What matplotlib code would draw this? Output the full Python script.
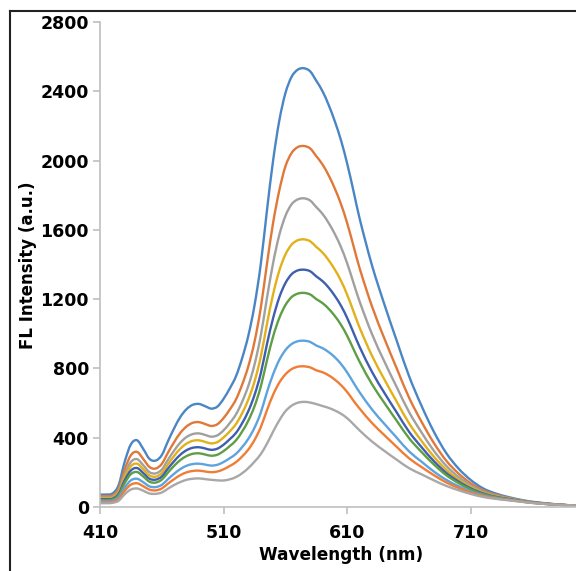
import matplotlib
matplotlib.use("Agg")
import matplotlib.pyplot as plt
from matplotlib.lines import Line2D
from matplotlib.path import Path
from matplotlib.patches import PathPatch

wavelength = [410, 415, 420, 425, 430, 435, 440, 445, 450, 455, 460, 465, 470, 475,
              480, 485, 490, 495, 500, 505, 510, 515, 520, 525, 530, 535, 540, 545,
              550, 555, 560, 565, 570, 575, 580, 585, 590, 595, 600, 605, 610, 615,
              620, 630, 640, 650, 660, 670, 680, 690, 700, 710, 720, 730, 740, 750,
              760, 780, 795]

s1 = [72, 72, 78, 125, 262, 362, 385, 335, 278, 268, 300, 380, 455, 520,
      565, 590, 595, 582, 568, 580, 625, 685, 755, 860, 990, 1165, 1400, 1710,
      2000, 2230, 2390, 2484, 2525, 2533, 2515, 2460, 2400, 2320, 2225, 2115, 1980, 1825,
      1665, 1395, 1170, 960, 755, 585, 435, 312, 222, 155, 107, 78, 58, 42,
      30, 15, 8]
s2 = [62, 62, 67, 105, 217, 299, 318, 277, 231, 222, 249, 314, 375, 428,
      465, 486, 490, 479, 468, 478, 514, 563, 621, 707, 813, 955, 1148, 1402,
      1640, 1827, 1967, 2044, 2078, 2084, 2070, 2025, 1977, 1914, 1837, 1747, 1637, 1508,
      1378, 1158, 973, 800, 631, 493, 370, 268, 193, 136, 96, 71, 54, 39,
      28, 14, 8]
s3 = [55, 55, 59, 92, 189, 260, 276, 241, 201, 194, 216, 273, 326, 372,
      404, 421, 425, 416, 406, 414, 443, 485, 535, 608, 700, 823, 988, 1205,
      1408, 1570, 1681, 1748, 1776, 1782, 1769, 1731, 1692, 1639, 1575, 1499, 1405, 1295,
      1186, 998, 840, 692, 548, 431, 325, 238, 173, 124, 88, 66, 51, 38,
      27, 14, 8]
s4 = [50, 50, 54, 84, 172, 236, 250, 218, 182, 175, 196, 247, 295, 337,
      366, 382, 385, 376, 367, 375, 402, 437, 479, 542, 621, 725, 866, 1055,
      1228, 1364, 1458, 1515, 1540, 1545, 1534, 1501, 1469, 1424, 1370, 1305, 1224, 1130,
      1035, 873, 737, 608, 483, 382, 291, 215, 158, 114, 82, 62, 48, 36,
      26, 14, 8]
s5 = [45, 45, 48, 75, 154, 211, 225, 196, 163, 158, 176, 222, 265, 302,
      328, 342, 345, 338, 330, 337, 360, 392, 428, 484, 554, 647, 770, 939,
      1090, 1210, 1293, 1344, 1366, 1370, 1361, 1331, 1304, 1266, 1218, 1161, 1090, 1007,
      924, 780, 659, 546, 434, 346, 265, 197, 147, 107, 78, 59, 47, 35,
      26, 14, 8]
s6 = [40, 40, 43, 67, 138, 190, 202, 176, 146, 141, 158, 199, 238, 271,
      294, 307, 310, 303, 296, 302, 323, 352, 385, 436, 499, 582, 694, 845,
      984, 1091, 1166, 1212, 1232, 1236, 1227, 1200, 1177, 1144, 1102, 1051, 987, 912,
      838, 709, 601, 498, 397, 318, 246, 184, 138, 101, 74, 57, 45, 34,
      25, 13, 8]
s7 = [34, 34, 36, 56, 112, 154, 163, 143, 119, 115, 128, 161, 192, 219,
      238, 248, 250, 245, 239, 244, 260, 282, 307, 346, 394, 458, 544, 662,
      766, 849, 906, 941, 957, 960, 953, 932, 917, 894, 864, 825, 776, 718,
      662, 563, 480, 400, 321, 262, 205, 157, 120, 90, 67, 53, 43, 33,
      24, 13, 8]
s8 = [28, 28, 30, 46, 94, 129, 137, 120, 100, 96, 107, 135, 161, 184,
      200, 208, 210, 205, 201, 205, 218, 237, 259, 292, 332, 387, 460, 558,
      648, 718, 766, 796, 810, 812, 806, 789, 778, 760, 735, 703, 663, 614,
      568, 485, 415, 347, 281, 231, 184, 142, 110, 83, 63, 50, 41, 32,
      24, 13, 8]
s9 = [22, 22, 24, 36, 74, 101, 107, 94, 78, 76, 84, 106, 127, 144,
      157, 163, 165, 161, 157, 154, 153, 160, 173, 195, 225, 262, 305, 365,
      435, 500, 553, 585, 602, 607, 603, 594, 583, 572, 557, 538, 512, 478,
      442, 378, 324, 273, 224, 189, 154, 122, 97, 75, 58, 47, 39, 31,
      23, 13, 8]

series = [s1, s2, s3, s4, s5, s6, s7, s8, s9]
colors = ['#4A86C5', '#E0783A', '#A0A0A0', '#E2B01A', '#3F5FAE',
          '#5E9E45', '#5DA3E0', '#F07D35', '#A8A8A8']


def smooth_path(xs, ys):
    # excel style smoothed line: cubic bezier through every point
    n = len(xs)
    slopes = []
    for i in range(n):
        a = max(i - 1, 0)
        b = min(i + 1, n - 1)
        slopes.append((ys[b] - ys[a]) / (xs[b] - xs[a]))
    verts = [(xs[0], ys[0])]
    codes = [Path.MOVETO]
    for i in range(n - 1):
        dx = (xs[i + 1] - xs[i]) / 3
        verts += [(xs[i] + dx, ys[i] + slopes[i] * dx),
                  (xs[i + 1] - dx, ys[i + 1] - slopes[i + 1] * dx),
                  (xs[i + 1], ys[i + 1])]
        codes += [Path.CURVE4] * 3
    return Path(verts, codes)


fig = plt.figure(figsize=(5.76, 5.71), dpi=100)
ax = fig.add_axes([100/576, 64/571, 476/576, 485/571])

for ys, c in zip(series, colors):
    ax.add_patch(PathPatch(smooth_path(wavelength, ys), facecolor='none', edgecolor=c,
                           lw=1.7, capstyle='round', joinstyle='round'))

ax.set_xlim(410, 795)
ax.set_ylim(0, 2800)
ax.set_xticks([410, 510, 610, 710])
ax.set_yticks(range(0, 2801, 400))

for side in ['top', 'right']:
    ax.spines[side].set_visible(False)
for side in ['left', 'bottom']:
    ax.spines[side].set_color('#BFBFBF')
    ax.spines[side].set_linewidth(1.2)

ax.tick_params(axis='both', direction='out', color='#BFBFBF', width=1.2, length=5)
ax.tick_params(axis='y', pad=3)
ax.tick_params(axis='x', pad=7)
for lab in ax.get_xticklabels() + ax.get_yticklabels():
    lab.set_fontsize(12.5)
    lab.set_fontweight('bold')

fig.text(28/576, 0.536, "FL Intensity (a.u.)", rotation=90, ha='center', va='center',
         fontsize=12, fontweight='bold')
fig.text(341/576, 16/571, "Wavelength (nm)", ha='center', va='center',
         fontsize=12.2, fontweight='bold')

# outer frame (left and top only, the rest is cropped)
fig.add_artist(Line2D([10/576, 10/576], [0, 1 - 11/571], transform=fig.transFigure,
                      color='#222222', lw=1.5))
fig.add_artist(Line2D([10/576, 1], [1 - 11/571, 1 - 11/571], transform=fig.transFigure,
                      color='#222222', lw=1.5))

fig.savefig("out.png", dpi=100)
